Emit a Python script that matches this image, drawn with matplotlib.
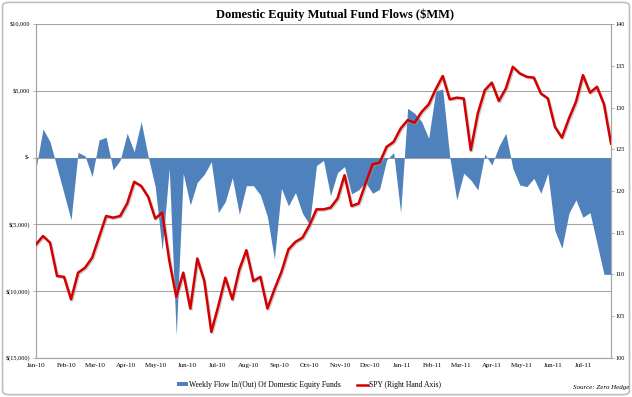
import numpy as np
import pandas as pd
import matplotlib
matplotlib.use('Agg')
import matplotlib.pyplot as plt
import matplotlib.dates as mdates
import matplotlib.patheffects as pe
from matplotlib.patches import Patch, FancyBboxPatch
from matplotlib.lines import Line2D

plt.rcParams['font.family'] = ['Liberation Serif', 'DejaVu Serif']

# weekly fund flows ($MM)
flows = [-800, 2150, 1200, -750, -2700, -4670, 400, 130, -1420, 1330,
         1530, -920, -200, 1830, 450, 2700, 80, -2170, -6920, -800,
         -13300, -1170, -3550, -1850, -1250, -300, -4120, -3300, -1500, -4250,
         -2100, -2100, -2800, -4420, -7620, -2300, -3620, -2620, -4170, -5000,
         -600, -200, -2850, -1120, -670, -2720, -2420, -1850, -2670, -2370,
         -170, 380, -4120, 3700, 3330, 2700, 1450, 5000, 5150, 80,
         -3170, -1170, -1670, -2420, 280, -550, 830, 1830, -800, -2050,
         -2170, -1550, -2670, -1170, -5470, -6800, -4170, -3170, -4470, -4120,
         -6420, -8750, -8750]

# SPY weekly close
spy = [113.6, 114.6, 113.8, 109.8, 109.7, 107.0, 110.2, 110.8, 112.0, 114.5,
       117.0, 116.8, 117.0, 118.5, 121.1, 120.6, 119.3, 116.7, 117.4, 111.7,
       107.3, 110.2, 105.9, 111.9, 109.2, 103.1, 106.2, 109.6, 107.0, 110.6,
       112.9, 109.2, 109.7, 105.9, 108.2, 110.3, 113.0, 113.9, 114.4, 115.9,
       117.8, 117.8, 118.0, 119.1, 121.9, 118.2, 118.5, 120.9, 123.2, 123.4,
       125.3, 125.9, 127.5, 128.5, 128.2, 129.5, 130.4, 132.2, 133.8, 131.0,
       131.2, 131.1, 124.9, 129.3, 132.1, 133.0, 130.8, 132.3, 134.9, 134.1,
       133.7, 133.6, 131.7, 131.1, 127.7, 126.4, 128.7, 130.7, 133.9, 131.8,
       132.5, 130.4, 125.7]

dates = pd.date_range('2010-01-01', periods=len(flows), freq='7D')
months = pd.date_range('2010-01-01', '2011-07-01', freq='MS')

left_ticks = [10000, 5000, 0, -5000, -10000, -15000]
left_labels = ['$10,000', '$5,000', '$-', '$(5,000)', '$(10,000)', '$(15,000)']
right_ticks = [100, 105, 110, 115, 120, 125, 130, 135, 140]

blue = '#4F81BD'
red = '#D40000'
grey = '#A6A6A6'

fig = plt.figure(figsize=(6.32, 3.97), dpi=100)
ax = fig.add_axes([36/632, 1-357.7/397, 575/632, 333.4/397])

ax.fill_between(dates, flows, 0, color=blue, lw=0, zorder=2)
ax.set_ylim(-15000, 10000)
ax.set_yticks(left_ticks)
ax.set_yticklabels(left_labels)
ax.set_xlim(dates[0], dates[-1])
ax.set_xticks(months)
ax.xaxis.set_major_formatter(mdates.DateFormatter('%b-%y'))
ax.grid(axis='y', color=grey, lw=0.8, zorder=1)
ax.tick_params(axis='x', length=0, labelsize=5, pad=4)
ax.tick_params(axis='y', length=2, width=0.6, color=grey, labelsize=4.5, pad=2)

ax2 = ax.twinx()
ax2.plot(dates, spy, color=red, lw=1.8, zorder=3,
         path_effects=[pe.SimpleLineShadow(offset=(0.8, -0.8), shadow_color='#999999', alpha=0.5),
                       pe.Normal()])
ax2.set_ylim(100, 140)
ax2.set_yticks(right_ticks)
ax2.tick_params(axis='y', length=2, width=0.6, color=grey, labelsize=4.5, pad=1.5)

for a in (ax, ax2):
    for s in a.spines.values():
        s.set_color(grey)
        s.set_linewidth(0.8)
    a.spines['top'].set_visible(False)

fig.text(335/632, 1-15/397, 'Domestic Equity Mutual Fund Flows ($MM)',
         ha='center', va='center', fontsize=9, fontweight='bold')

handles = [Patch(facecolor=blue, edgecolor='none'),
           Line2D([0], [0], color=red, lw=1.8)]
fig.legend(handles, ['Weekly Flow In/(Out) Of Domestic Equity Funds', 'SPY (Right Hand Axis)'],
           loc='center', bbox_to_anchor=(309/632, 1-385/397), ncol=2, frameon=False,
           fontsize=5.5, handlelength=1.4, handleheight=0.5, handletextpad=0.1,
           columnspacing=2.2)

fig.text(629/632, 1-388/397, 'Source: Zero Hedge', ha='right', va='center',
         fontsize=5, style='italic')

border = FancyBboxPatch((0.004, 0.006), 0.992, 0.988, boxstyle='round,pad=0,rounding_size=0.01',
                        transform=fig.transFigure, fill=False, edgecolor='#BFBFBF', lw=1.2)
fig.patches.append(border)

fig.savefig('out.png', dpi=100)
